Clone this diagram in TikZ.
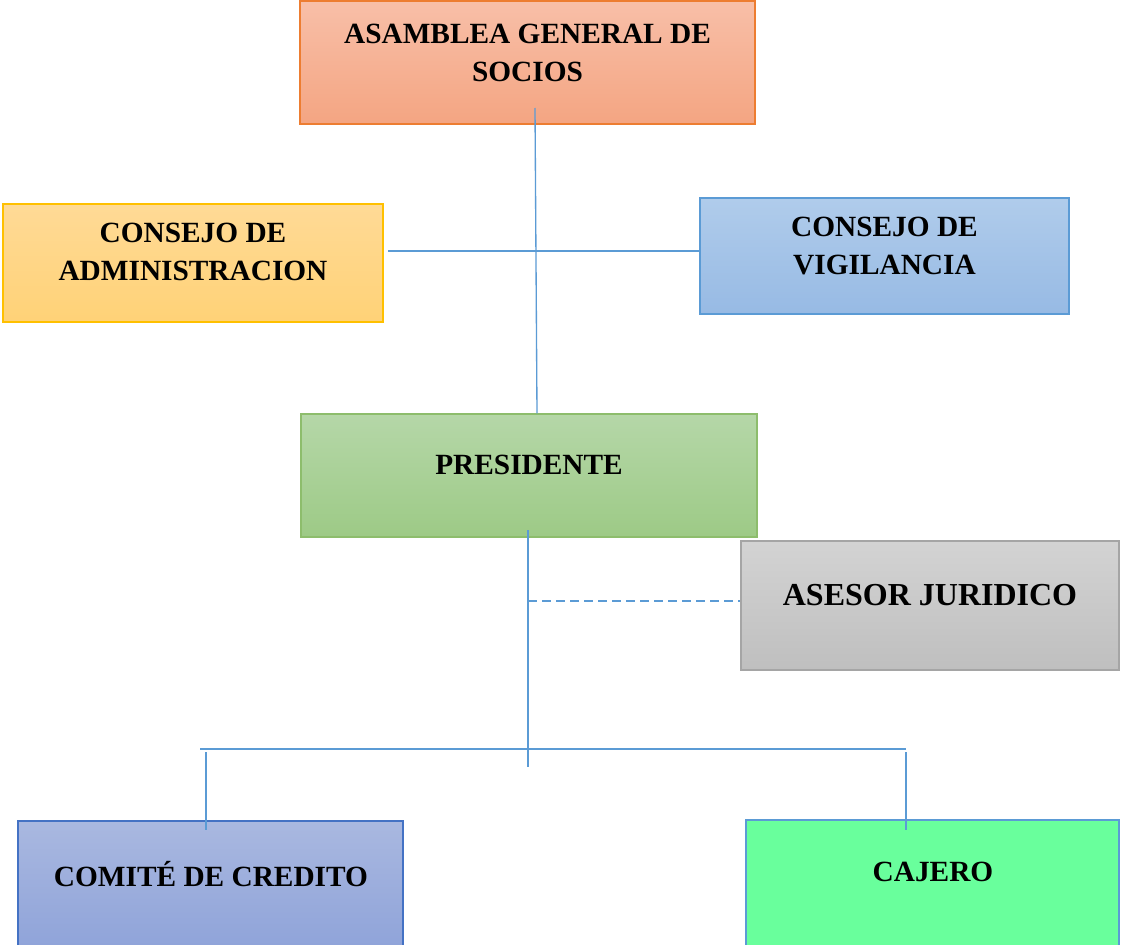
\documentclass[tikz,border=0pt]{standalone}
\usepackage{fontspec}
\setmainfont{Liberation Serif}
\usetikzlibrary{positioning}
\definecolor{SalmonTop}{HTML}{F8BFA8}
\definecolor{SalmonBot}{HTML}{F4A582}
\definecolor{SalmonLine}{HTML}{ED7D31}
\definecolor{GoldTop}{HTML}{FFDA96}
\definecolor{GoldBot}{HTML}{FFD277}
\definecolor{GoldLine}{HTML}{FFC000}
\definecolor{SkyTop}{HTML}{B0CCEB}
\definecolor{SkyBot}{HTML}{97BAE4}
\definecolor{LinkBlue}{HTML}{5B9BD5}
\definecolor{LeafTop}{HTML}{B5D7A8}
\definecolor{LeafBot}{HTML}{9DCA86}
\definecolor{LeafLine}{HTML}{70AD47}
\definecolor{AshTop}{HTML}{D3D3D3}
\definecolor{AshBot}{HTML}{BFBFBF}
\definecolor{AshLine}{HTML}{A5A5A5}
\definecolor{IrisTop}{HTML}{A9B8E0}
\definecolor{IrisBot}{HTML}{8BA0D8}
\definecolor{IrisLine}{HTML}{4472C4}
\definecolor{MintFill}{HTML}{69FF9C}

\tikzset{
  box/.style={rectangle, line width=1pt, inner sep=0pt},
  boxtext/.style={font=\fontsize{22}{29}\selectfont\bfseries, align=center, inner sep=0pt},
  link/.style={draw=LinkBlue, line width=1pt},
  dotlink/.style={link, dash pattern=on 6.5pt off 4pt}
}

\begin{document}
\begin{tikzpicture}[x=0.75pt, y=-0.75pt]
  \clip (0,0) rectangle (1121,945);
  \fill[white] (0,0) rectangle (1121,945);
  % Boxes
  \node[box, draw=SalmonLine, top color=SalmonTop, bottom color=SalmonBot,
    minimum width=341.25pt, minimum height=92.25pt] (asamblea) at (527.5,62.5) {};
  \node[box, draw=GoldLine, top color=GoldTop, bottom color=GoldBot,
    minimum width=285pt, minimum height=88.5pt] (admin) at (193,263) {};
  \node[box, draw=LinkBlue, top color=SkyTop, bottom color=SkyBot,
    minimum width=276.75pt, minimum height=87pt] (vigilancia) at (884.5,256) {};
  \node[box, draw=LeafLine!80, top color=LeafTop, bottom color=LeafBot,
    minimum width=342pt, minimum height=92.25pt] (presidente) at (529,475.5) {};
  \node[box, draw=AshLine, top color=AshTop, bottom color=AshBot,
    minimum width=283.5pt, minimum height=96.75pt] (asesor) at (930,605.5) {};
  \node[box, draw=IrisLine, top color=IrisTop, bottom color=IrisBot,
    minimum width=288.75pt, minimum height=111.75pt] (comite) at (210.5,895.5) {};
  \node[box, draw=LinkBlue, fill=MintFill, line width=2pt,
    minimum width=279.75pt, minimum height=112.5pt] (cajero) at (932.5,895) {};
  % Texts
  \node[boxtext] (asambleaT) at (527.5,53) {ASAMBLEA GENERAL DE\\SOCIOS};
  \node[boxtext] (adminT) at (193,252) {CONSEJO DE\\ADMINISTRACION};
  \node[boxtext] (vigilanciaT) at (884.5,246) {CONSEJO DE\\VIGILANCIA};
  \node[boxtext] (presidenteT) at (529,465) {PRESIDENTE};
  \node[boxtext, font=\fontsize{24}{29}\selectfont\bfseries] (asesorT) at (930,595) {ASESOR JURIDICO};
  \node[boxtext] (comiteT) at (211,874) {COMITÉ DE CREDITO};
  \node[boxtext] (cajeroT) at (933,872) {CAJERO};
  % Connectors
  \coordinate (aDown) at (535,108);
  \draw[link] (aDown) -- ([xshift=6pt]presidente.north);
  \coordinate (cLeft) at (388,251);
  \draw[link] (cLeft) -- (cLeft -| vigilancia.west);
  \coordinate (pTop) at (528,530);
  \coordinate (pBot) at (528,767);
  \draw[link] (pTop) -- (pBot);
  \coordinate (dLeft) at (528,601);
  \draw[dotlink] (dLeft) -- (dLeft -| asesor.west);
  \coordinate (barL) at (200,749);
  \coordinate (barR) at (906,749);
  \draw[link] (barL) -- (barR);
  \coordinate (legL) at (206,752);
  \coordinate (legLend) at (206,830);
  \draw[link] (legL) -- (legLend);
  \coordinate (legR) at (906,752);
  \coordinate (legRend) at (906,830);
  \draw[link] (legR) -- (legRend);
\end{tikzpicture}
\end{document}
